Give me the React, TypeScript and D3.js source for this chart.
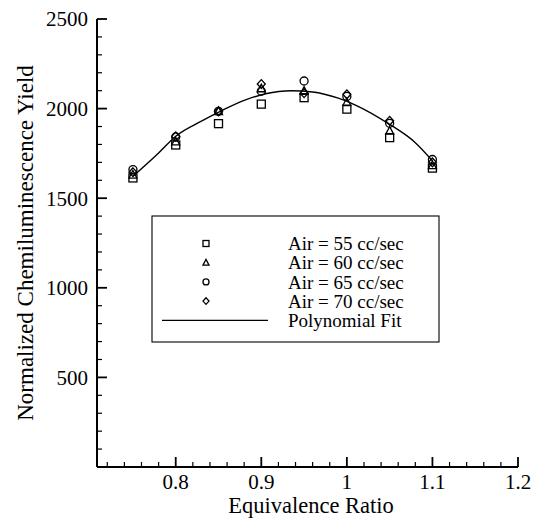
import React from "react";
import * as d3 from "d3";

// Equivalence ratios at which the yield was measured
const ratios = [0.75, 0.8, 0.85, 0.9, 0.95, 1.0, 1.05, 1.1];

// Normalized chemiluminescence yield for each air flow rate
const air55 = [1613, 1797, 1916, 2025, 2061, 1997, 1838, 1668];
const air60 = [1630, 1815, 1985, 2112, 2098, 2035, 1875, 1683];
const air65 = [1660, 1842, 1985, 2097, 2154, 2068, 1918, 1716];
const air70 = [1645, 1845, 1985, 2137, 2086, 2080, 1932, 1700];

// Polynomial fit curve, sampled along the ratio range
const fitX = [0.75, 0.78, 0.8, 0.83, 0.855, 0.88, 0.905, 0.935, 0.96, 0.99, 1.01, 1.05, 1.08, 1.1];
const fitY = [1622, 1752, 1846, 1930, 1992, 2046, 2083, 2100, 2093, 2058, 2020, 1912, 1810, 1709];

const legendLabels = ["Air = 55 cc/sec", "Air = 60 cc/sec", "Air = 65 cc/sec", "Air = 70 cc/sec", "Polynomial Fit"];

const xMajor = [0.8, 0.9, 1.0, 1.1, 1.2];
const yMajor = [500, 1000, 1500, 2000, 2500];

const FONT = "Liberation Serif, Times New Roman, DejaVu Serif, serif";

type Shape = "square" | "triangle" | "circle" | "diamond";

function Marker({ shape, cx, cy, s }: { shape: Shape; cx: number; cy: number; s: number }) {
  const h = s / 2;
  const common = { fill: "none", stroke: "#000", strokeWidth: 1.3 };
  if (shape === "square") return <rect x={cx - h} y={cy - h} width={s} height={s} {...common} />;
  if (shape === "circle") return <circle cx={cx} cy={cy} r={h} {...common} />;
  if (shape === "triangle")
    return <path d={`M${cx},${cy - h * 1.1}L${cx + h},${cy + h * 0.8}L${cx - h},${cy + h * 0.8}Z`} {...common} />;
  return <path d={`M${cx},${cy - h * 1.1}L${cx + h},${cy}L${cx},${cy + h * 1.1}L${cx - h},${cy}Z`} {...common} />;
}

export default function App() {
  const x = d3.scaleLinear().domain([0.708, 1.2]).range([97, 518]);
  const y = d3.scaleLinear().domain([0, 2500]).range([467, 19]);

  const series: { shape: Shape; values: number[] }[] = [
    { shape: "square", values: air55 },
    { shape: "triangle", values: air60 },
    { shape: "circle", values: air65 },
    { shape: "diamond", values: air70 },
  ];

  const fitLine = d3
    .line<number>()
    .x((_, i) => x(fitX[i]))
    .y((d) => y(d))
    .curve(d3.curveMonotoneX)(fitY);

  const xMinor = d3.range(0.72, 1.2001, 0.02).filter((v) => !xMajor.some((m) => Math.abs(m - v) < 1e-6));
  const yMinor = d3.range(100, 2500, 100).filter((v) => v % 500 !== 0);

  const x0 = x.range()[0];
  const y0 = y.range()[0];

  const legX = 152;
  const legY = 216;
  const legW = 287;
  const legH = 126;
  const rowY = (i: number) => 243.5 + i * 19.2;

  const txt = { fontFamily: FONT, fill: "#000" } as const;

  return (
    <svg
      width={534}
      height={519}
      style={{ position: "absolute", left: 0, top: 0, background: "#fff", fontFamily: FONT }}
    >
      <rect width={534} height={519} fill="#fff" />

      {/* fit curve */}
      <path d={fitLine || ""} fill="none" stroke="#000" strokeWidth={1.4} />

      {/* data markers */}
      {series.map((s) =>
        s.values.map((v, i) => (
          <Marker key={s.shape + i} shape={s.shape} cx={x(ratios[i])} cy={y(v)} s={8} />
        ))
      )}

      {/* axes */}
      <line x1={x0} x2={x(1.2)} y1={y0} y2={y0} stroke="#000" strokeWidth={2} />
      <line x1={x0} x2={x0} y1={y0} y2={y(2500)} stroke="#000" strokeWidth={2} />

      {xMajor.map((v) => (
        <g key={"xM" + v}>
          <line x1={x(v)} x2={x(v)} y1={y0} y2={y0 - 10} stroke="#000" strokeWidth={1.8} />
          <text x={x(v)} y={489} textAnchor="middle" fontSize={21} style={txt}>
            {d3.format("")(v)}
          </text>
        </g>
      ))}
      {xMinor.map((v) => (
        <line key={"xm" + v} x1={x(v)} x2={x(v)} y1={y0} y2={y0 - 5} stroke="#000" strokeWidth={1.2} />
      ))}

      {yMajor.map((v) => (
        <g key={"yM" + v}>
          <line x1={x0} x2={x0 + 10} y1={y(v)} y2={y(v)} stroke="#000" strokeWidth={1.8} />
          <text x={88} y={y(v)} dy="0.35em" textAnchor="end" fontSize={21} style={txt}>
            {v}
          </text>
        </g>
      ))}
      {yMinor.map((v) => (
        <line key={"ym" + v} x1={x0} x2={x0 + 5} y1={y(v)} y2={y(v)} stroke="#000" strokeWidth={1.2} />
      ))}

      <text x={311} y={513} textAnchor="middle" fontSize={22.5} style={txt}>
        Equivalence Ratio
      </text>
      <text transform={`translate(33,243) rotate(-90)`} textAnchor="middle" fontSize={23} style={txt}>
        Normalized Chemiluminescence Yield
      </text>

      {/* legend */}
      <rect x={legX} y={legY} width={legW} height={legH} fill="#fff" stroke="#000" strokeWidth={1.1} />
      {series.map((s, i) => (
        <Marker key={"leg" + s.shape} shape={s.shape} cx={206} cy={rowY(i)} s={6} />
      ))}
      <line x1={162} x2={268} y1={rowY(4)} y2={rowY(4)} stroke="#000" strokeWidth={1.2} />
      {legendLabels.map((t, i) => (
        <text key={t} x={288} y={rowY(i)} dy="0.35em" fontSize={19} style={txt}>
          {t}
        </text>
      ))}
    </svg>
  );
}
